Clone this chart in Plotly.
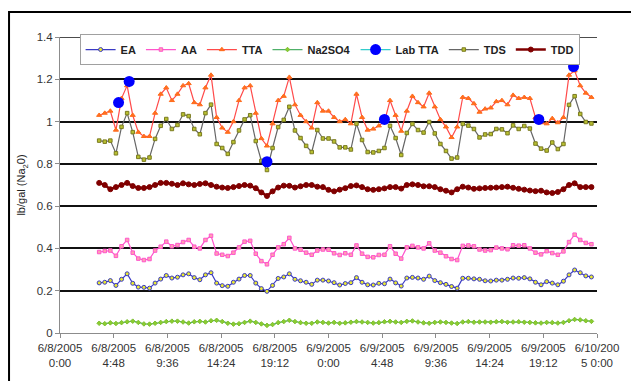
import pandas as pd
import plotly.graph_objects as go

# Half-hourly readings, 6/8/2005 03:30 through 6/9/2005 23:30
times = pd.date_range("2005-06-08 03:30", periods=89, freq="30min")

ea = [0.237, 0.24, 0.248, 0.225, 0.254, 0.28, 0.235, 0.217, 0.216, 0.212,
      0.236, 0.255, 0.272, 0.26, 0.264, 0.275, 0.28, 0.262, 0.252, 0.275,
      0.285, 0.236, 0.224, 0.221, 0.24, 0.255, 0.272, 0.272, 0.236, 0.21,
      0.197, 0.225, 0.258, 0.265, 0.28, 0.254, 0.247, 0.24, 0.23, 0.25,
      0.25, 0.246, 0.238, 0.227, 0.234, 0.238, 0.262, 0.24, 0.228, 0.227,
      0.235, 0.233, 0.255, 0.237, 0.222, 0.26, 0.263, 0.26, 0.254, 0.269,
      0.248, 0.238, 0.23, 0.22, 0.212, 0.259, 0.259, 0.256, 0.254, 0.247,
      0.246, 0.25, 0.25, 0.254, 0.26, 0.259, 0.262, 0.256, 0.24, 0.228,
      0.243, 0.236, 0.228, 0.245, 0.275, 0.298, 0.285, 0.27, 0.265]

aa = [0.383, 0.388, 0.39, 0.365, 0.41, 0.44, 0.38, 0.352, 0.345, 0.35,
      0.39, 0.408, 0.432, 0.41, 0.416, 0.43, 0.44, 0.408, 0.40, 0.44,
      0.46, 0.376, 0.37, 0.364, 0.38, 0.405, 0.432, 0.436, 0.375, 0.34,
      0.325, 0.37, 0.405, 0.42, 0.45, 0.40, 0.394, 0.38, 0.37, 0.39,
      0.395, 0.394, 0.377, 0.369, 0.377, 0.37, 0.414, 0.375, 0.36, 0.358,
      0.369, 0.37, 0.41, 0.375, 0.352, 0.405, 0.412, 0.405, 0.40, 0.424,
      0.39, 0.38, 0.363, 0.35, 0.345, 0.412, 0.414, 0.41, 0.395, 0.39,
      0.392, 0.404, 0.40, 0.396, 0.415, 0.413, 0.415, 0.40, 0.38, 0.372,
      0.387, 0.378, 0.37, 0.386, 0.43, 0.465, 0.44, 0.426, 0.42]

tta = [1.03, 1.04, 1.05, 0.96, 1.11, 1.17, 1.03, 0.95, 0.93, 0.93,
       1.04, 1.13, 1.16, 1.10, 1.13, 1.17, 1.18, 1.09, 1.08, 1.16,
       1.22, 1.02, 0.97, 0.95, 1.00, 1.10, 1.16, 1.17, 1.04, 0.92,
       0.885, 0.99, 1.10, 1.12, 1.21, 1.08, 1.03, 1.00, 0.97, 1.09,
       1.05, 1.05, 1.02, 1.00, 1.01, 0.99, 1.13, 1.02, 0.96, 0.965,
       0.98, 1.00, 1.10, 1.03, 0.955, 1.05, 1.12, 1.09, 1.07, 1.135,
       1.07, 1.01, 0.975, 0.925, 0.975, 1.115, 1.11, 1.085, 1.045, 1.06,
       1.065, 1.095, 1.10, 1.08, 1.125, 1.11, 1.115, 1.11, 1.02, 0.995,
       0.99, 1.015, 0.995, 1.02, 1.22, 1.24, 1.17, 1.135, 1.115]

na2so4 = [0.046, 0.044, 0.048, 0.045, 0.049, 0.053, 0.056, 0.05, 0.043, 0.042,
          0.046, 0.05, 0.054, 0.056, 0.056, 0.052, 0.047, 0.053, 0.055, 0.052,
          0.058, 0.06, 0.054, 0.046, 0.042, 0.044, 0.05, 0.056, 0.05, 0.043,
          0.036, 0.04, 0.049, 0.054, 0.06, 0.054, 0.049, 0.046, 0.046, 0.052,
          0.05, 0.047, 0.05, 0.046, 0.048, 0.051, 0.054, 0.052, 0.05, 0.047,
          0.049, 0.053, 0.055, 0.052, 0.05, 0.055, 0.057, 0.052, 0.048, 0.046,
          0.05, 0.052, 0.05, 0.047, 0.045, 0.052, 0.054, 0.051, 0.052, 0.052,
          0.051, 0.053, 0.054, 0.051, 0.052, 0.053, 0.051, 0.05, 0.048, 0.047,
          0.05, 0.049, 0.047, 0.05, 0.058, 0.064, 0.062, 0.058, 0.055]

tds = [0.91, 0.905, 0.91, 0.85, 0.975, 1.04, 0.95, 0.833, 0.82, 0.83,
       0.918, 0.98, 1.012, 0.965, 0.984, 1.034, 1.026, 0.965, 0.94, 1.04,
       1.08, 0.894, 0.875, 0.847, 0.903, 0.958, 1.01, 1.03, 0.908, 0.814,
       0.771, 0.875, 0.974, 1.008, 1.07, 0.958, 0.922, 0.885, 0.856, 0.96,
       0.92, 0.92, 0.906, 0.878, 0.878, 0.868, 0.99, 0.913, 0.856, 0.854,
       0.861, 0.875, 0.98, 0.922, 0.842, 0.946, 0.989, 0.96, 0.948, 0.998,
       0.944, 0.894, 0.861, 0.825, 0.83, 0.989, 0.981, 0.965, 0.925, 0.939,
       0.941, 0.965, 0.963, 0.945, 0.982, 0.965, 0.979, 0.967, 0.896, 0.872,
       0.863, 0.901, 0.87, 0.894, 1.079, 1.12, 1.036, 0.998, 0.991]

tdd = [0.71, 0.70, 0.68, 0.69, 0.70, 0.71, 0.695, 0.686, 0.686, 0.69,
       0.70, 0.71, 0.71, 0.706, 0.70, 0.708, 0.703, 0.70, 0.705, 0.708,
       0.70, 0.692, 0.688, 0.686, 0.69, 0.695, 0.70, 0.697, 0.685, 0.665,
       0.648, 0.67, 0.688, 0.697, 0.696, 0.688, 0.694, 0.70, 0.70, 0.692,
       0.69, 0.677, 0.67, 0.678, 0.685, 0.695, 0.698, 0.69, 0.68, 0.677,
       0.68, 0.684, 0.69, 0.69, 0.683, 0.70, 0.703, 0.70, 0.694, 0.694,
       0.69, 0.68, 0.673, 0.665, 0.68, 0.692, 0.688, 0.682, 0.684, 0.686,
       0.687, 0.688, 0.69, 0.692, 0.687, 0.682, 0.678, 0.674, 0.671, 0.673,
       0.665, 0.662, 0.667, 0.68, 0.70, 0.708, 0.69, 0.69, 0.69]

# Laboratory titrations of TTA
lab_times = ["2005-06-08 05:14", "2005-06-08 06:11", "2005-06-08 18:30",
             "2005-06-09 05:00", "2005-06-09 18:48", "2005-06-09 21:54"]
lab_tta = [1.09, 1.19, 0.81, 1.01, 1.01, 1.26]

tick_times = pd.date_range("2005-06-08 00:00", "2005-06-10 00:00", freq="288min")
tick_labels = ["6/8/2005<br>0:00", "6/8/2005<br>4:48", "6/8/2005<br>9:36",
               "6/8/2005<br>14:24", "6/8/2005<br>19:12", "6/9/2005<br>0:00",
               "6/9/2005<br>4:48", "6/9/2005<br>9:36", "6/9/2005<br>14:24",
               "6/9/2005<br>19:12", "6/10/200<br>5 0:00"]

fig = go.Figure()


def add_series(name, values, line_color, line_width, symbol, size, fill, edge, rank):
    fig.add_trace(go.Scatter(
        x=times, y=values, name=name, mode="lines+markers",
        line=dict(color=line_color, width=line_width),
        marker=dict(symbol=symbol, size=size, color=fill,
                    line=dict(color=edge, width=1)),
        legendrank=rank,
    ))


add_series("EA", ea, "#3a3ac4", 1.2, "circle", 4, "#e8e830", "#3a3ac4", 1)
add_series("AA", aa, "#ff55cc", 1.2, "square", 3.5, "#ffa0b0", "#ff55cc", 2)
add_series("TTA", tta, "#ff4a4a", 1.2, "triangle-up", 4.5, "#ff7020", "#ff6a1a", 3)
add_series("Na2SO4", na2so4, "#4fb06a", 1.2, "diamond", 3.5, "#8ccc30", "#7cc030", 4)
add_series("TDS", tds, "#666666", 1.2, "square", 3.5, "#b8c030", "#7a7a20", 6)
add_series("TDD", tdd, "#800000", 2.5, "circle", 5, "#800000", "#800000", 7)

# Lab points are isolated; gaps keep them unconnected while the legend shows a line
lab_x, lab_y = [], []
for t, v in zip(lab_times, lab_tta):
    lab_x += [t, None]
    lab_y += [v, None]
fig.add_trace(go.Scatter(
    x=lab_x, y=lab_y, name="Lab TTA", mode="lines+markers", connectgaps=False,
    line=dict(color="#33cccc", width=1.2),
    marker=dict(symbol="circle", size=11, color="#0000ff"),
    legendrank=5,
))

axis_grey = "#8c8c8c"
fig.update_layout(
    width=631, height=381,
    margin=dict(l=60, r=23, t=37, b=48),
    paper_bgcolor="white", plot_bgcolor="white",
    font=dict(family="Liberation Sans, Arial, sans-serif", size=11, color="#222"),
    showlegend=True,
    legend=dict(orientation="h", x=0.0365, y=1.01, xanchor="left", yanchor="top",
                bgcolor="white", bordercolor="#a0a0a0", borderwidth=1,
                font=dict(size=11, weight="bold", color="#222")),
    xaxis=dict(type="date", range=["2005-06-08 00:00", "2005-06-10 00:00"],
               tickvals=list(tick_times), ticktext=tick_labels,
               tickfont=dict(size=11.5, color="#333"),
               ticks="outside", ticklen=4, tickcolor=axis_grey,
               showline=True, linecolor=axis_grey, linewidth=1,
               showgrid=False, zeroline=False),
    yaxis=dict(range=[0, 1.4], dtick=0.2, tickfont=dict(size=11.5, color="#333"),
               ticks="outside", ticklen=4, tickcolor=axis_grey,
               showline=True, linecolor=axis_grey, linewidth=1,
               showgrid=True, gridcolor="#111", gridwidth=1.5, zeroline=False,
               title=dict(text="lb/gal (Na<sub>2</sub>0)", standoff=8,
                          font=dict(size=11, color="#222"))),
    yaxis2=dict(range=[0, 30], dtick=5, overlaying="y", side="right",
                tickfont=dict(size=11.5, color="#333"),
                ticks="outside", ticklen=4, tickcolor=axis_grey,
                showline=True, linecolor=axis_grey, linewidth=1,
                showgrid=False, zeroline=False),
    shapes=[
        # outer chart frame
        dict(type="rect", xref="paper", yref="paper",
             x0=-0.0949, x1=1.5, y0=-0.5, y1=1.0845,
             line=dict(color="black", width=2), fillcolor="rgba(0,0,0,0)",
             layer="below"),
        # top gridline at 1.4
        dict(type="line", xref="paper", yref="y", x0=0, x1=1, y0=1.4, y1=1.4,
             line=dict(color="#111", width=1.5), layer="below"),
    ],
)

fig.write_html("out.html")
